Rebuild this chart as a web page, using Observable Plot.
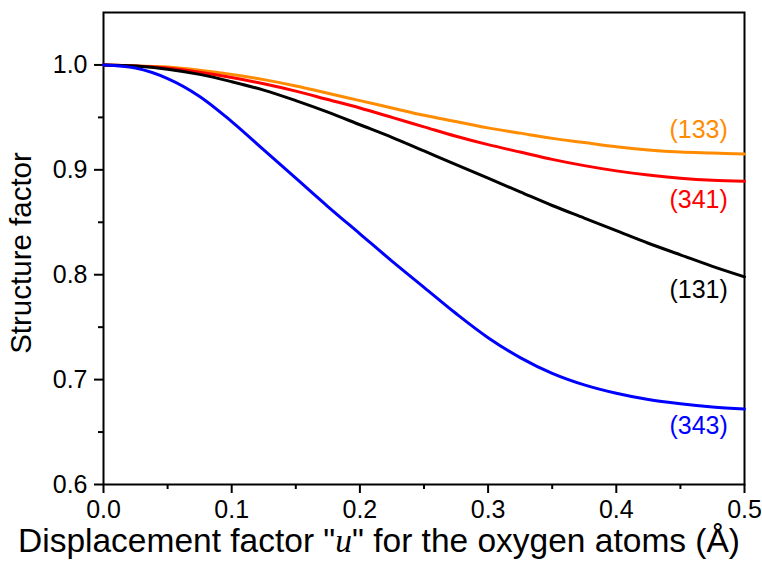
<!DOCTYPE html>
<html>
<head>
<meta charset="utf-8">
<script src="https://cdn.jsdelivr.net/npm/d3@7"></script>
<script src="https://cdn.jsdelivr.net/npm/@observablehq/plot@0.6"></script>
<style>
  html, body { margin: 0; padding: 0; background: #fff; }
  #chart svg { display: block; font-family: "Liberation Sans", Arial, sans-serif; }
</style>
</head>
<body>
<div id="chart"></div>
<script>
const u = [0, 0.025, 0.05, 0.075, 0.1, 0.125, 0.15, 0.175, 0.2, 0.225, 0.25, 0.275, 0.3, 0.325, 0.35, 0.375, 0.4, 0.425, 0.45, 0.475, 0.5];
const f133 = [1.000, 0.999, 0.998, 0.995, 0.991, 0.986, 0.980, 0.973, 0.966, 0.959, 0.952, 0.946, 0.940, 0.935, 0.930, 0.926, 0.922, 0.919, 0.917, 0.916, 0.915];
const f341 = [1.000, 0.999, 0.997, 0.993, 0.988, 0.982, 0.975, 0.967, 0.959, 0.950, 0.941, 0.932, 0.924, 0.917, 0.910, 0.904, 0.899, 0.895, 0.892, 0.890, 0.889];
const f131 = [1.000, 0.999, 0.996, 0.991, 0.984, 0.976, 0.966, 0.955, 0.943, 0.931, 0.918, 0.905, 0.892, 0.879, 0.866, 0.854, 0.842, 0.830, 0.819, 0.808, 0.798];
const f343 = [1.000, 0.997, 0.987, 0.970, 0.946, 0.919, 0.892, 0.865, 0.839, 0.813, 0.788, 0.763, 0.740, 0.721, 0.706, 0.695, 0.687, 0.681, 0.677, 0.674, 0.672];

const seriesNames = ["(133)", "(341)", "(131)", "(343)"];
const seriesColors = ["#ff8c00", "#ff0000", "#000000", "#0000ff"];
const seriesValues = [f133, f341, f131, f343];
const labelU = [0.487, 0.487, 0.487, 0.487];
const labelY = [0.938, 0.871, 0.785, 0.656];

const xTicks = [0, 0.1, 0.2, 0.3, 0.4, 0.5];
const xMinor = [0.05, 0.15, 0.25, 0.35, 0.45];
const yTicks = [0.6, 0.7, 0.8, 0.9, 1.0];
const yMinor = [0.65, 0.75, 0.85, 0.95];

const rows = [];
seriesNames.forEach((name, i) => {
  u.forEach((x, j) => rows.push({series: name, u: x, f: seriesValues[i][j]}));
});
const labels = seriesNames.map((name, i) => ({series: name, u: labelU[i], f: labelY[i], color: seriesColors[i]}));

const plot = Plot.plot({
  width: 762,
  height: 561,
  marginLeft: 103,
  marginRight: 18,
  marginTop: 12,
  marginBottom: 77,
  style: {fontFamily: '"Liberation Sans", Arial, sans-serif', background: "#fff"},
  x: {domain: [0, 0.5]},
  y: {domain: [0.6, 1.05]},
  color: {domain: seriesNames, range: seriesColors},
  marks: [
    Plot.axisX({ticks: xMinor, tickSize: 5, tickFormat: () => "", strokeWidth: 2, label: null}),
    Plot.axisX({ticks: xTicks, tickSize: 9, tickPadding: 7, tickFormat: d3.format(".1f"), strokeWidth: 2, fontSize: 25, label: null}),
    Plot.axisY({ticks: yMinor, tickSize: 5, tickFormat: () => "", strokeWidth: 2, label: null}),
    Plot.axisY({ticks: yTicks, tickSize: 9, tickPadding: 7, tickFormat: d3.format(".1f"), strokeWidth: 2, fontSize: 25, label: null}),
    Plot.frame({stroke: "#000", strokeWidth: 2}),
    Plot.line(rows, {x: "u", y: "f", z: "series", stroke: "series", strokeWidth: 3, curve: "catmull-rom"}),
    Plot.text(labels, {x: "u", y: "f", text: "series", fill: "color", textAnchor: "end", fontSize: 25})
  ]
});

const svg = d3.select(plot);
svg.selectAll("[aria-label='x-axis tick label'] text, [aria-label='y-axis tick label'] text").attr("fill", "#000");
svg.append("text")
  .attr("transform", "translate(23,253) rotate(-90)")
  .attr("text-anchor", "middle")
  .attr("dominant-baseline", "middle")
  .attr("font-size", 29.5)
  .attr("fill", "#000")
  .text("Structure factor");
const xl = svg.append("text")
  .attr("x", 379)
  .attr("y", 552)
  .attr("text-anchor", "middle")
  .attr("font-size", 33.5)
  .attr("fill", "#000");
xl.append("tspan").text('Displacement factor "');
xl.append("tspan").attr("font-family", '"Liberation Serif", "Times New Roman", serif').attr("font-style", "italic").text("u");
xl.append("tspan").text('" for the oxygen atoms (Å)');

document.getElementById("chart").appendChild(plot);
</script>
</body>
</html>
